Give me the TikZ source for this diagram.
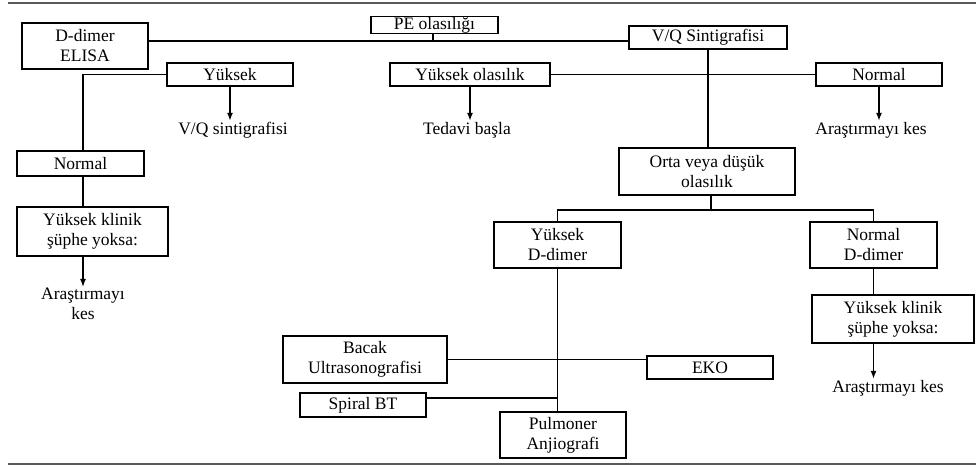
\documentclass[tikz,border=0pt]{standalone}
\usepackage{fontspec}
\setmainfont{Liberation Serif}
\usetikzlibrary{arrows.meta,positioning,calc}
\newcommand\diafont{\fontsize{17.5}{20}\selectfont}

\begin{document}
\begin{tikzpicture}[x=1pt,y=-1pt,
  blk/.style={draw,line width=1.4pt,inner sep=0pt,align=center,font=\diafont},
  txt/.style={inner sep=1pt,align=center,font=\diafont},
  ln/.style={line width=1.4pt},
  arr/.style={-{Latex[length=8pt,width=6pt]},line width=1.4pt},
  rule/.style={line width=1.8pt,black!65}
]
  \useasboundingbox (0,0) rectangle (976,466);
  \draw[rule] (8,3) -- (976,3);
  \draw[rule] (8,464) -- (976,464);

  % Top row
  \node[blk,minimum width=127,minimum height=17] (pe)  at (434.5,25)  {PE olasılığı};
  \node[blk,minimum width=126,minimum height=46] (dd)  at (85,46)     {D-dimer\\ELISA};
  \node[blk,minimum width=158,minimum height=23] (vq)  at (708,37.5)  {V/Q Sintigrafisi};

  % D-dimer ELISA branch
  \node[blk,minimum width=126,minimum height=23] (yk1) at (230,74.5)  {Yüksek};
  \node[txt] (vqs) at (233,130) {V/Q sintigrafisi};
  \node[blk,minimum width=127,minimum height=25] (nl)  at (80.5,163.5) {Normal};
  \node[blk,minimum width=151,minimum height=49] (ykl) at (92.5,231.5) {Yüksek klinik\\şüphe yoksa:};
  \node[txt] (arl) at (83,304) {Araştırmayı\\kes};

  % V/Q branch
  \node[blk,minimum width=160,minimum height=23] (yo)  at (470,74.5)  {Yüksek olasılık};
  \node[txt] (ted) at (467,130) {Tedavi başla};
  \node[blk,minimum width=126,minimum height=23] (nr1) at (879,74.5)  {Normal};
  \node[txt] (ark1) at (871,130) {Araştırmayı kes};
  \node[blk,minimum width=176,minimum height=47] (orta) at (707,171.5) {Orta veya düşük\\olasılık};

  % D-dimer after V/Q
  \node[blk,minimum width=127,minimum height=46] (ydd) at (557.5,245) {Yüksek\\D-dimer};
  \node[blk,minimum width=127,minimum height=46] (ndd) at (873.5,245) {Normal\\D-dimer};
  \node[blk,minimum width=162,minimum height=48] (ykr) at (893,319)   {Yüksek klinik\\şüphe yoksa:};
  \node[txt] (ark2) at (888,388) {Araştırmayı kes};

  % Further tests
  \node[blk,minimum width=164,minimum height=47] (bacak)  at (365,359.5) {Bacak\\Ultrasonografisi};
  \node[blk,minimum width=126,minimum height=23] (eko)    at (710,367.5) {EKO};
  \node[blk,minimum width=126,minimum height=24] (spiral) at (363,405)   {Spiral BT};
  \node[blk,minimum width=126,minimum height=46] (pulm)   at (563,435)   {Pulmoner\\Anjiografi};

  % Connectors
  \coordinate (tj) at (433,41);
  \draw[ln] (dd.east|-tj) -- (vq.west|-tj);
  \draw[ln] (pe.south-|tj) -- (tj);

  \coordinate (lj) at (83,74.5);
  \draw[ln] (yk1.west) -- (lj) -- (lj|-nl.north);
  \draw[ln] (nl.south-|lj) -- (ykl.north-|lj);
  \draw[arr] (ykl.south-|lj) -- (arl.north-|lj);
  \draw[arr] (yk1.south) -- (yk1.south|-vqs.north);

  \draw[ln] (yo.east) -- (nr1.west);
  \draw[ln] (vq.south) -- (vq.south|-orta.north);
  \draw[arr] (yo.south) -- (yo.south|-ted.north);
  \draw[arr] (nr1.south) -- (nr1.south|-ark1.north);

  \coordinate (oj) at (711,210);
  \draw[ln] (orta.south-|oj) -- (oj);
  \draw[ln] (ydd.north) -- (ydd.north|-oj) -- (ndd.north|-oj) -- (ndd.north);
  \draw[ln] (ndd.south) -- (ndd.south|-ykr.north);
  \draw[arr] (ndd.south|-ykr.south) -- (ndd.south|-ark2.north);

  \coordinate (sj) at (426,398);
  \draw[ln] (ydd.south) -- (ydd.south|-pulm.north);
  \draw[ln] (bacak.east) -- (bacak.east-|eko.west);
  \draw[ln] (spiral.east|-sj) -- (ydd.south|-sj);
\end{tikzpicture}
\end{document}
